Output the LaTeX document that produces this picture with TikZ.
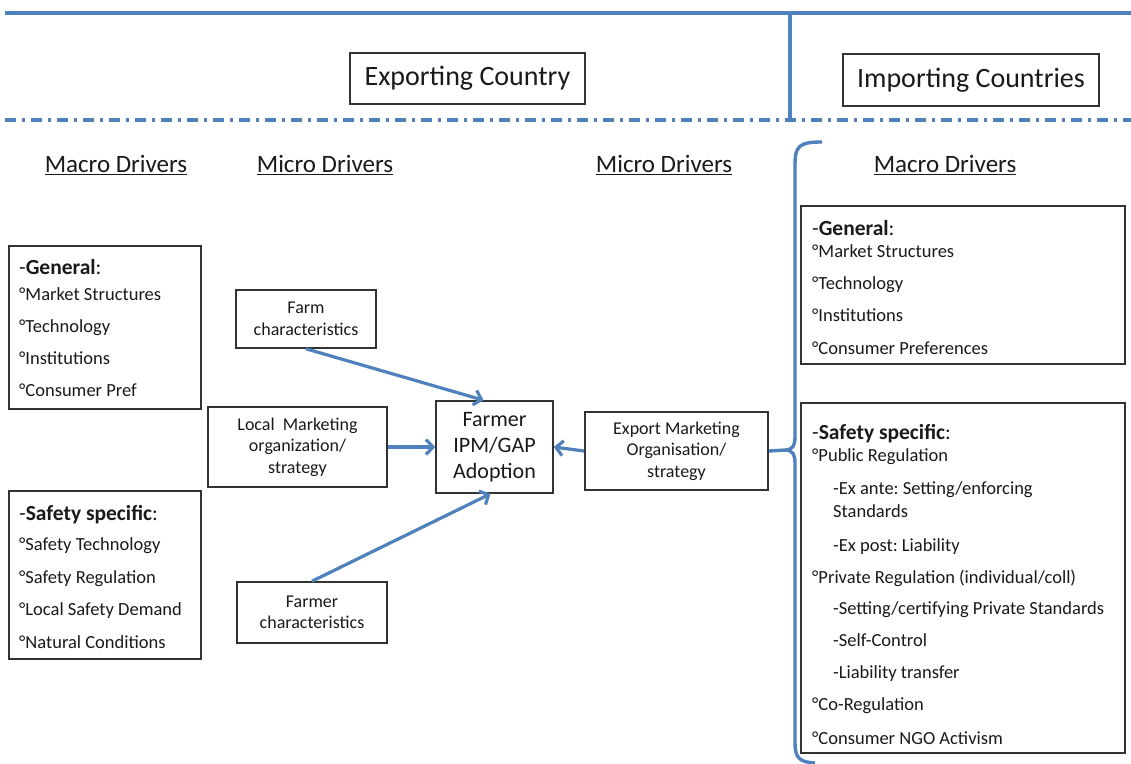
\documentclass[tikz,border=0pt]{standalone}
\usepackage{fontspec}
\setmainfont{Carlito}
\usetikzlibrary{arrows.meta}
\frenchspacing
\definecolor{lblue}{HTML}{4F81BD}
\definecolor{boxc}{HTML}{333333}
\definecolor{txt}{HTML}{1A1A1A}
\begin{document}
\begin{tikzpicture}[x=1pt,y=-1pt,
  blueline/.style={draw=lblue, line width=3.4pt},
  arr/.style={draw=lblue, line width=3.2pt, -{Straight Barb[length=7pt,width=15pt]}},
  sbox/.style={draw=boxc, line width=1.6pt, fill=white, align=center, inner sep=0pt, text=txt, font=\fontsize{18}{21.5}\selectfont},
  listbox/.style={draw=boxc, line width=1.6pt, inner sep=0pt, anchor=north west},
  item/.style={anchor=base west, inner sep=0pt, text=txt, font=\fontsize{18.5}{22}\selectfont},
  head/.style={item, font=\fontsize{21.5}{24}\selectfont},
  hdr/.style={inner sep=0pt, text=txt, font=\fontsize{25}{30}\selectfont},
  cbox/.style={draw=boxc, line width=1.6pt, inner sep=0pt, text=txt, font=\fontsize{28}{32}\selectfont}]
\useasboundingbox[fill=white] (0,0) rectangle (1131,763);

% top frame lines
\draw[blueline] (5,13) -- (1131,13);
\draw[blueline] (790,13) -- (790,120);
\draw[lblue, line width=3.6pt, dash pattern=on 11pt off 6pt on 3pt off 6pt] (5,120) -- (1131,120);

% country boxes
\node[cbox, minimum width=235pt, minimum height=51pt] (expc) at (467.5,78.5) {Exporting Country};
\node[cbox, minimum width=256pt, minimum height=52pt] (impc) at (971,80) {Importing Countries};

% headers
\node[hdr] (hmacl) at (116,165) {\underline{Macro Drivers}};
\node[hdr] (hmicl) at (325,165) {\underline{Micro Drivers}};
\node[hdr] (hmicr) at (664,165) {\underline{Micro Drivers}};
\node[hdr] (hmacr) at (945,165) {\underline{Macro Drivers}};

% left general box
\node[listbox, minimum width=192pt, minimum height=163pt] (lgen) at (8,245) {};
\node[head] (lg0) at (19,274) {-\textbf{General}:};
\node[item] (lg1) at (19,300) {°Market Structures};
\node[item] (lg2) at (19,332) {°Technology};
\node[item] (lg3) at (19,364) {°Institutions};
\node[item] (lg4) at (19,396) {°Consumer Pref};

% left safety box
\node[listbox, minimum width=192pt, minimum height=168pt] (lsaf) at (8,490) {};
\node[head] (ls0) at (19,520) {-\textbf{Safety specific}:};
\node[item] (ls1) at (19,550) {°Safety Technology};
\node[item] (ls2) at (19,583) {°Safety Regulation};
\node[item] (ls3) at (19,615) {°Local Safety Demand};
\node[item] (ls4) at (19,648) {°Natural Conditions};

% right general box
\node[listbox, minimum width=324pt, minimum height=158pt] (rgen) at (800,205) {};
\node[head] (rg0) at (812,235) {-\textbf{General}:};
\node[item] (rg1) at (812,257) {°Market Structures};
\node[item] (rg2) at (812,289) {°Technology};
\node[item] (rg3) at (812,321) {°Institutions};
\node[item] (rg4) at (812,354) {°Consumer Preferences};

% right safety box
\node[listbox, minimum width=324pt, minimum height=350pt] (rsaf) at (800,402) {};
\node[head] (rs0) at (812,439) {-\textbf{Safety specific}:};
\node[item] (rs1) at (812,461) {°Public Regulation};
\node[item] (rs2) at (833,494) {-Ex ante: Setting/enforcing};
\node[item] (rs3) at (833,517) {Standards};
\node[item] (rs4) at (833,551) {-Ex post: Liability};
\node[item] (rs5) at (812,583) {°Private Regulation (individual/coll)};
\node[item] (rs6) at (833,614) {-Setting/certifying Private Standards};
\node[item] (rs7) at (833,646) {-Self-Control};
\node[item] (rs8) at (833,678) {-Liability transfer};
\node[item] (rs9) at (812,710) {°Co-Regulation};
\node[item] (rs10) at (812,744) {°Consumer NGO Activism};

% micro boxes
\node[sbox, minimum width=140pt, minimum height=58pt] (farm) at (306,319) {Farm\\characteristics};
\node[sbox, minimum width=179pt, minimum height=80pt] (local) at (297.5,447) {Local\ \ Marketing\\organization/\\strategy};
\node[sbox, minimum width=150pt, minimum height=61pt] (farmerc) at (312,612.5) {Farmer\\characteristics};
\node[sbox, minimum width=117pt, minimum height=92pt, font=\fontsize{22}{26}\selectfont] (farmer) at (494.5,447) {Farmer\\IPM/GAP\\Adoption};
\node[sbox, minimum width=183pt, minimum height=78pt] (exp) at (676.5,451) {Export Marketing\\Organisation/\\strategy};

% arrows
\draw[arr] (farm.south) -- ([xshift=-11pt]farmer.north);
\draw[arr] (local.east) -- (farmer.west);
\draw[arr] (farmerc.north) -- ([xshift=-4pt]farmer.south);
\draw[arr] (exp.west) -- (farmer.east);

% brace
\coordinate (cusp) at (786,450);
\draw[blueline] (exp.east) -- (cusp);
\draw[blueline, line join=round] (822,142) .. controls (799,142) and (795,146) .. (795,165)
  -- (795,436) .. controls (795,446) and (793,449) .. (cusp)
  .. controls (793,451) and (795,454) .. (795,464)
  -- (795,742) .. controls (795,758) and (799,762) .. (815,763);
\end{tikzpicture}
\end{document}
